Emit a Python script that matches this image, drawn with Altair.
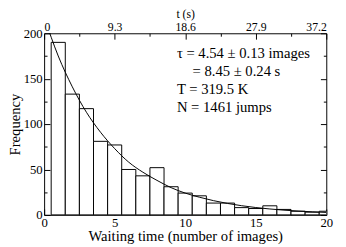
import json
import altair as alt
import pandas as pd

# ---- data ----
bin_centers = list(range(1, 21))
counts = [190, 133, 117, 81, 77, 50, 43, 52, 31, 24, 21, 13, 13, 8, 7, 10, 6, 4, 3, 4]

fit_x = list(range(0, 21))
fit_y = [218, 175, 141, 113, 91, 73, 58, 47, 38, 30, 24, 19.5, 15.7, 12.6, 10.1,
         8.1, 6.5, 5.2, 4.2, 3.4, 2.7]

x_major = [0, 5, 10, 15, 20]
x_minor = [2.5, 7.5, 12.5, 17.5]
top_tick_labels = ["0", "9.3", "18.6", "27.9", "37.2"]
y_major = [0, 50, 100, 150, 200]
y_minor = [25, 75, 125, 175]

annotations = ["τ = 4.54 ± 0.13 images", "= 8.45 ± 0.24 s", "T = 319.5 K", "N = 1461 jumps"]

FONT = "Liberation Serif"
W, H = 289, 186

bars_df = pd.DataFrame({"bin": bin_centers, "count": counts})
fit_df = pd.DataFrame({"x": fit_x, "y": fit_y})

xs = alt.Scale(domain=[0, 20], nice=False, zero=False)
ys = alt.Scale(domain=[0, 200], nice=False)


def tick_axis(orient, offset, values, size):
    return alt.Axis(orient=orient, offset=offset, values=values, tickSize=size,
                    ticks=True, labels=False, domain=False, grid=False, title=None,
                    tickColor="black", tickWidth=1)


bars = alt.Chart(bars_df).transform_calculate(
    lo="datum.bin - 0.5", hi="datum.bin + 0.5"
).mark_bar(fill="white", stroke="black", strokeWidth=1, clip=True).encode(
    x=alt.X("lo:Q", scale=xs, axis=alt.Axis(
        orient="bottom", values=x_major, ticks=False, tickSize=0, domain=False, grid=False,
        labelFont=FONT, labelColor="black",
        labelFontSize=13, labelBaseline="alphabetic", labelPadding=11.5, labelFlush=False,
        labelOverlap=False,
        title="Waiting time (number of images)", titleFont=FONT, titleColor="black",
        titleFontWeight="normal", titleFontSize=15,
        titleBaseline="alphabetic", titleY=26.5)),
    x2="hi:Q",
    y=alt.Y("count:Q", scale=ys, axis=alt.Axis(
        orient="left", values=y_major, ticks=False, tickSize=0, domain=False, grid=False,
        labelFont=FONT, labelColor="black",
        labelFontSize=13, labelPadding=2, labelBaseline="middle", labelOverlap=False,
        labelFlush=False,
        title="Frequency", titleFont=FONT, titleColor="black", titleFontWeight="normal",
        titleFontSize=15, titleX=-25, titleY=H / 2, titleAngle=270,
        titleBaseline="alphabetic", titleAlign="center")),
    y2=alt.datum(0),
)

label_expr = json.dumps(top_tick_labels) + "[round(datum.value / 5)]"

fit = alt.Chart(fit_df).mark_line(color="black", strokeWidth=1, clip=True,
                                  interpolate="monotone").encode(
    x=alt.X("x:Q", scale=xs, axis=alt.Axis(
        orient="top", values=x_major, ticks=False, tickSize=0, domain=False, grid=False,
        labelFont=FONT, labelColor="black",
        labelExpr=label_expr, labelFontSize=12, labelBaseline="alphabetic",
        labelPadding=2.5, labelFlush=True, labelOverlap=False,
        title="t (s)", titleFont=FONT, titleColor="black", titleFontWeight="normal",
        titleFontSize=12, titleBaseline="alphabetic", titleY=-16)),
    y=alt.Y("y:Q", scale=ys, axis=tick_axis("left", -W, y_major, 6)),
)

d1 = alt.Chart(bars_df).mark_point(opacity=0).encode(
    x=alt.X("bin:Q", scale=xs, axis=tick_axis("top", -H, x_major, 6)),
    y=alt.Y("count:Q", scale=ys, axis=tick_axis("right", -W, y_major, 6)),
)
d2 = alt.Chart(bars_df).mark_point(opacity=0).encode(
    x=alt.X("bin:Q", scale=xs, axis=tick_axis("top", -H, x_minor, 3)),
    y=alt.Y("count:Q", scale=ys, axis=tick_axis("right", -W, y_minor, 3)),
)
d3 = alt.Chart(bars_df).mark_point(opacity=0).encode(
    x=alt.X("bin:Q", scale=xs, axis=tick_axis("bottom", -H, x_major, 6)),
    y=alt.Y("count:Q", scale=ys, axis=tick_axis("left", -W, y_minor, 3)),
)
d4 = alt.Chart(bars_df).mark_point(opacity=0).encode(
    x=alt.X("bin:Q", scale=xs, axis=tick_axis("bottom", -H, x_minor, 3)),
    y=alt.Y("count:Q", scale=ys, axis=None),
)

text_pos = [(136, 25.5), (152, 44), (136, 62.5), (136, 81)]
texts = []
for line, (tx, ty) in zip(annotations, text_pos):
    texts.append(
        alt.Chart(pd.DataFrame({"t": [line]})).mark_text(
            align="left", baseline="alphabetic", font=FONT, fontSize=15, color="black"
        ).encode(x=alt.value(tx), y=alt.value(ty), text="t:N")
    )

chart = alt.layer(bars, fit, d1, d2, d3, d4, *texts).resolve_scale(
    x="shared", y="shared"
).resolve_axis(
    x="independent", y="independent"
).properties(
    width=W, height=H,
    padding={"left": 37, "top": 23, "right": 12, "bottom": 30},
    autosize=alt.AutoSizeParams(type="none"),
    background="white",
).configure_axis(
    labelFont=FONT, titleFont=FONT, labelColor="black", titleColor="black",
    titleFontWeight="normal", tickColor="black",
).configure_view(
    stroke="black", strokeWidth=1,
)

chart.save("out.html", embed_options={"renderer": "svg", "actions": False})
